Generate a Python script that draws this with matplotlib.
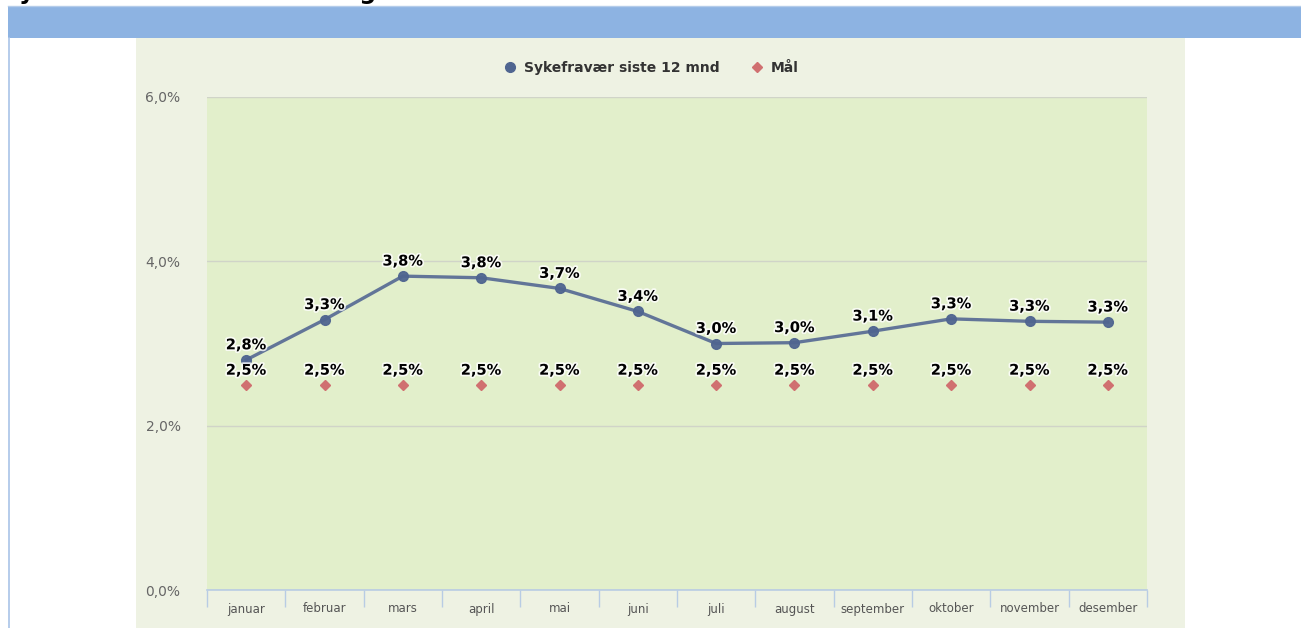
import matplotlib.pyplot as plt
import matplotlib.patheffects as pe
from matplotlib.patches import Rectangle
from matplotlib.lines import Line2D

months = ["januar", "februar", "mars", "april", "mai", "juni", "juli",
          "august", "september", "oktober", "november", "desember"]
sykefravaer = [2.80, 3.29, 3.82, 3.80, 3.67, 3.39, 3.00, 3.01, 3.15, 3.30, 3.27, 3.26]
maal = [2.5] * 12
yticks = [0, 2, 4, 6]

W, H = 1301, 628
fig = plt.figure(figsize=(W / 100, H / 100), dpi=100)
fig.patch.set_facecolor("white")

def fx(px):
    return px / W

def fy(py):
    return 1 - py / H

# title (top is cut off in the reference)
fig.text(fx(2), fy(-1), "Sykefravær siste 12 mnd og mål for året", fontsize=17,
         fontweight="bold", ha="left", va="baseline", color="black")

# blue header bar and left border
fig.patches.append(Rectangle((fx(8), fy(38)), fx(W - 8), 32 / H, transform=fig.transFigure,
                             facecolor="#8DB3E2", edgecolor="none", zorder=0))
fig.add_artist(Line2D([fx(8.5), fx(8.5)], [0, fy(38)], color="#A9C4E8", lw=1.2,
                      transform=fig.transFigure))
fig.add_artist(Line2D([fx(8), 1], [fy(6), fy(6)], color="#B4CCEA", lw=1,
                      transform=fig.transFigure))

# chart panel
fig.patches.append(Rectangle((fx(136), 0), fx(1185 - 136), fy(38), transform=fig.transFigure,
                             facecolor="#EEF2E3", edgecolor="none", zorder=0))

ax = fig.add_axes([fx(207), 38 / H, fx(1147 - 207), (590 - 97) / H])
ax.set_zorder(2)
ax.set_facecolor("#E2EFCB")
x = list(range(len(months)))

halo = [pe.withStroke(linewidth=2.5, foreground="white", alpha=0.8)]

ax.plot(x, sykefravaer, color="#5B6F96", lw=2.4, marker="o", ms=7,
        markerfacecolor="#4F6590", markeredgecolor="#4F6590", zorder=4, alpha=0.95)
ax.plot(x, maal, ls="none", marker="D", ms=4.8, color="#D07070", zorder=4)

for i, v in enumerate(sykefravaer):
    ax.annotate(f"{v:.1f}%".replace(".", ","), (i, v), xytext=(0, 5.5), textcoords="offset points",
                ha="center", va="bottom", fontsize=10.5, fontweight="bold", color="black",
                path_effects=halo, zorder=5)
for i, v in enumerate(maal):
    ax.annotate(f"{v:.1f}%".replace(".", ","), (i, v), xytext=(0, 5), textcoords="offset points",
                ha="center", va="bottom", fontsize=10.5, fontweight="bold", color="black",
                path_effects=halo, zorder=5)

ax.set_xlim(-0.5, len(months) - 0.5)
ax.set_ylim(0, 6)
ax.set_yticks(yticks)
ax.set_yticklabels([f"{t:.1f}%".replace(".", ",") for t in yticks], fontsize=10, color="#666666")
ax.set_xticks(x)
ax.set_xticklabels(months, fontsize=8.5, color="#555555")
ax.set_xticks([i - 0.5 for i in range(len(months) + 1)], minor=True)
ax.tick_params(axis="x", which="major", length=0, pad=9)
ax.tick_params(axis="x", which="minor", length=12, color="#B8CCE4", width=1)
ax.tick_params(axis="y", length=0, pad=19)

ax.grid(axis="y", color="#D0D4C8", lw=1)
ax.set_axisbelow(True)
for s in ["left", "right", "top"]:
    ax.spines[s].set_visible(False)
ax.spines["bottom"].set_color("#B8CCE4")
ax.spines["bottom"].set_linewidth(1.2)

handles = [Line2D([], [], ls="none", marker="o", ms=7, color="#4F6590"),
           Line2D([], [], ls="none", marker="D", ms=5, color="#D07070")]
leg = fig.legend(handles, ["Sykefravær siste 12 mnd", "Mål"], loc="center",
                 bbox_to_anchor=(fx(651), fy(68)), ncol=2, frameon=False,
                 prop={"weight": "bold", "size": 10}, labelcolor="#333333",
                 handletextpad=0.5, columnspacing=2.2, handlelength=1.0)
leg.set_zorder(3)

fig.savefig("out.png", dpi=100)
